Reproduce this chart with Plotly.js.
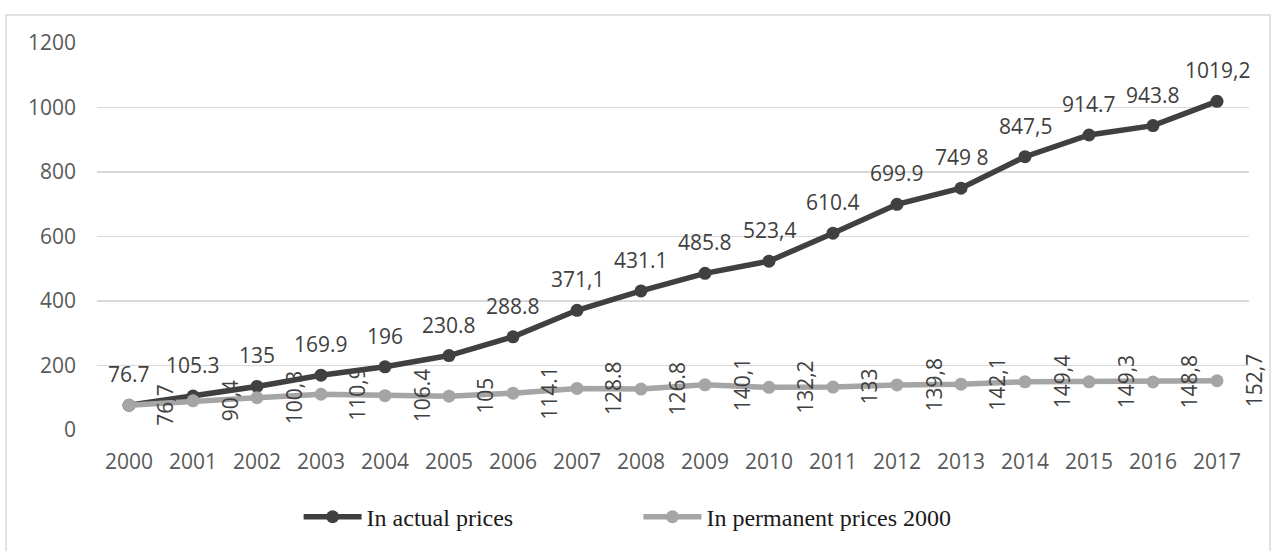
<!DOCTYPE html>
<html>
<head>
<meta charset="utf-8">
<script src="https://cdn.plot.ly/plotly-3.0.1.min.js"></script>
<style>
  html, body { margin: 0; padding: 0; background: #ffffff; }
  #chart { width: 1276px; height: 551px; }
</style>
</head>
<body>
<div id="chart"></div>
<script>
// Years on the category axis
const years = ['2000','2001','2002','2003','2004','2005','2006','2007','2008',
               '2009','2010','2011','2012','2013','2014','2015','2016','2017'];

// Series: in actual prices
const actualValues = [76.7, 105.3, 135, 169.9, 196, 230.8, 288.8, 371.1, 431.1,
                      485.8, 523.4, 610.4, 699.9, 749.8, 847.5, 914.7, 943.8, 1019.2];
const actualLabels = ['76.7','105.3','135','169.9','196','230.8','288.8','371,1','431.1',
                      '485.8','523,4','610.4','699.9','749 8','847,5','914.7','943.8','1019,2'];

// Series: in permanent prices of 2000
const permanentValues = [76.7, 90.4, 100.3, 110.9, 106.4, 105, 114.1, 128.8, 126.8,
                         140.1, 132.2, 133, 139.8, 142.1, 149.4, 149.3, 148.8, 152.7];
const permanentLabels = ['76,7','90,4','100,3','110,9','106.4','105','114.1','128.8','126.8',
                         '140,1','132,2','133','139,8','142,1','149,4','149,3','148,8','152,7'];

const yTicks = [0, 200, 400, 600, 800, 1000, 1200];

const darkColor = '#404040';
const lightColor = '#a5a5a5';
const labelFont = { family: 'Open Sans, sans-serif', size: 21, color: '#404040' };

const traces = [
  {
    type: 'scatter', mode: 'lines+markers', name: 'In actual prices',
    x: years, y: actualValues,
    line: { color: darkColor, width: 5.5 },
    marker: { color: darkColor, size: 13 },
    legend: 'legend', hoverinfo: 'x+y'
  },
  {
    type: 'scatter', mode: 'lines+markers', name: 'In permanent prices 2000',
    x: years, y: permanentValues,
    line: { color: lightColor, width: 5.5 },
    marker: { color: lightColor, size: 13 },
    legend: 'legend2', hoverinfo: 'x+y'
  }
];

// Value labels: horizontal above the actual-price points,
// rotated to the right of the permanent-price points.
// On a category axis annotations are placed by category index.
const annotations = [];
years.forEach((yr, i) => {
  annotations.push({
    x: i, y: actualValues[i], xref: 'x', yref: 'y',
    text: actualLabels[i], showarrow: false,
    xanchor: 'center', yanchor: 'middle', yshift: 31,
    font: labelFont
  });
  annotations.push({
    x: i, y: permanentValues[i], xref: 'x', yref: 'y',
    text: permanentLabels[i], showarrow: false, textangle: -90,
    xanchor: 'center', yanchor: 'middle', xshift: 36.5,
    font: labelFont
  });
});

const legendFont = { family: 'Liberation Serif, Times New Roman, serif', size: 24, color: '#1a1a1a' };

const layout = {
  width: 1276, height: 551,
  margin: { l: 97, r: 27, t: 43, b: 120 },
  paper_bgcolor: '#ffffff', plot_bgcolor: '#ffffff',
  showlegend: true,
  xaxis: {
    type: 'category', range: [-0.5, 17.5],
    showgrid: false, zeroline: false, showline: false,
    ticks: '', ticklabelstandoff: 17,
    tickfont: { family: 'Open Sans, sans-serif', size: 21, color: '#595959' },
    fixedrange: true
  },
  yaxis: {
    range: [0, 1200], tickvals: yTicks, ticktext: yTicks.map(String),
    showgrid: true, gridcolor: '#d9d9d9', gridwidth: 1.5,
    zeroline: false, showline: false, ticks: '', ticklabelstandoff: 20,
    tickfont: { family: 'Open Sans, sans-serif', size: 21, color: '#595959' },
    fixedrange: true
  },
  legend: {
    x: 0.175, y: -0.222, xanchor: 'left', yanchor: 'middle',
    orientation: 'h', itemwidth: 58, font: legendFont,
    bgcolor: 'rgba(0,0,0,0)', borderwidth: 0
  },
  legend2: {
    x: 0.47, y: -0.222, xanchor: 'left', yanchor: 'middle',
    orientation: 'h', itemwidth: 58, font: legendFont,
    bgcolor: 'rgba(0,0,0,0)', borderwidth: 0
  },
  annotations: annotations,
  shapes: [{
    type: 'rect', xref: 'paper', yref: 'paper',
    x0: -0.0790, x1: 1.0182, y0: -0.34, y1: 1.0722,
    line: { color: '#d9d9d9', width: 1.5 }, fillcolor: 'rgba(0,0,0,0)', layer: 'below'
  }]
};

Plotly.newPlot('chart', traces, layout, { displayModeBar: false, staticPlot: true });
</script>
</body>
</html>
